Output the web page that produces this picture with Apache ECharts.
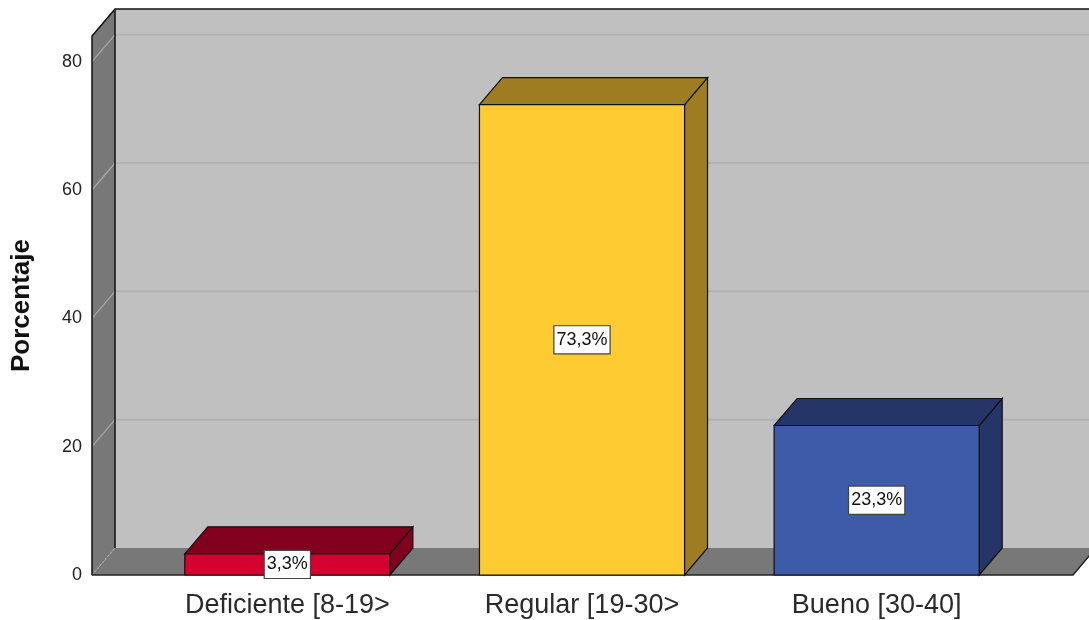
<!DOCTYPE html>
<html>
<head>
<meta charset="utf-8">
<script src="https://cdn.jsdelivr.net/npm/echarts@6/dist/echarts.min.js"></script>
<style>
html,body{margin:0;padding:0;background:#fff;}
#chart{width:1089px;height:620px;}
</style>
</head>
<body>
<div id="chart"></div>
<script>
// ---- data ----
const categories = ['Deficiente [8-19>', 'Regular [19-30>', 'Bueno [30-40]'];
const percentages = [3.3, 73.3, 23.3];
const yTicks = [0, 20, 40, 60, 80];
const yAxisName = 'Porcentaje';

// ---- styles ----
const frontColors = ['#d5002f', '#fecb33', '#3e5ba9'];
const shadeColors = ['#80001e', '#9d7c22', '#253567'];
const DX = 23, DY = -27;      // 3D depth offset
const WALL_EXT_L = 48, WALL_EXT_R = 49;
const BAR_FRAC = 0.696;

const chart = echarts.init(document.getElementById('chart'));

function fmt(v){ return v.toFixed(1).replace('.', ',') + '%'; }

function wallsRender(params, api){
  const cs = params.coordSys;
  const x0 = cs.x - WALL_EXT_L;
  const x1 = cs.x + cs.width + WALL_EXT_R;
  const yTop = cs.y;
  const yBase = api.coord([0, 0])[1];
  const children = [];
  // back wall
  children.push({type:'rect', shape:{x:x0+DX, y:yTop+DY, width:(x1-x0)+10, height:yBase-yTop},
    style:{fill:'#c0c0c0'}});
  // left wall
  children.push({type:'polygon', shape:{points:[[x0,yBase],[x0,yTop],[x0+DX,yTop+DY],[x0+DX,yBase+DY]]},
    style:{fill:'#787878'}});
  // floor
  children.push({type:'polygon', shape:{points:[[x0,yBase],[x1,yBase],[x1+DX,yBase+DY],[x0+DX,yBase+DY]]},
    style:{fill:'#787878'}});
  // gridlines
  yTicks.forEach(function(t){
    const y = api.coord([0, t])[1];
    children.push({type:'line', shape:{x1:x0, y1:y, x2:x0+DX, y2:y+DY},
      style:{stroke:'#a8a8a8', lineWidth:1.2, lineDash: t === 0 ? [2,2] : null}});
    if (t > 0) {
      children.push({type:'line', shape:{x1:x0+DX, y1:y+DY, x2:x1+DX+20, y2:y+DY},
        style:{stroke:'#b2b2b2', lineWidth:2}});
    }
  });
  // edges
  children.push({type:'polyline', shape:{points:[[x0,yBase],[x0,yTop],[x0+DX,yTop+DY],[x1+DX+20,yTop+DY]]},
    style:{stroke:'#111', lineWidth:1.5, fill:null}});
  children.push({type:'line', shape:{x1:x0+DX, y1:yTop+DY, x2:x0+DX, y2:yBase+DY},
    style:{stroke:'#111', lineWidth:1.5}});
  children.push({type:'polyline', shape:{points:[[x0,yBase],[x1,yBase],[x1+DX,yBase+DY]]},
    style:{stroke:'#222', lineWidth:1.5, fill:null}});
  return {type:'group', children:children};
}

function barRender(params, api){
  const idx = api.value(0);
  const val = api.value(1);
  const top = api.coord([idx, val]);
  const base = api.coord([idx, 0]);
  const w = api.size([1, 0])[0] * BAR_FRAC;
  const xl = top[0] - w/2, xr = top[0] + w/2;
  const yt = top[1], yb = base[1];
  const i = params.dataIndex;
  const edge = {stroke:'#111', lineWidth:1.2};
  return {type:'group', children:[
    {type:'polygon', shape:{points:[[xr,yb],[xr,yt],[xr+DX,yt+DY],[xr+DX,yb+DY]]},
      style:Object.assign({fill:shadeColors[i]}, edge)},
    {type:'polygon', shape:{points:[[xl,yt],[xr,yt],[xr+DX,yt+DY],[xl+DX,yt+DY]]},
      style:Object.assign({fill:shadeColors[i]}, edge)},
    {type:'rect', shape:{x:xl, y:yt, width:w, height:yb-yt},
      style:Object.assign({fill:frontColors[i]}, edge)},
    {type:'text', x:top[0], y:(yt+yb)/2, z2:10,
      style:{text:fmt(val), fill:'#111', font:'18px "Liberation Sans", Arial, sans-serif',
        align:'center', verticalAlign:'middle', backgroundColor:'#fff',
        borderColor:'#444', borderWidth:1.2, padding:[5,2,4,2]}}
  ]};
}

const option = {
  backgroundColor:'#ffffff',
  animation:false,
  grid:{left:140, right:65, top:36, bottom:45},
  xAxis:{
    type:'category', data:categories,
    axisLine:{show:false}, axisTick:{show:false},
    axisLabel:{fontSize:27, color:'#2a2a2a', margin:17, fontFamily:'"Liberation Sans", Arial, sans-serif'}
  },
  yAxis:{
    type:'value', min:0, max:84, interval:20, offset:WALL_EXT_L,
    axisLine:{show:false}, axisTick:{show:false}, splitLine:{show:false},
    axisLabel:{fontSize:18, color:'#222', margin:10, showMaxLabel:false,
      fontFamily:'"Liberation Sans", Arial, sans-serif',
      formatter:function(v){ return yTicks.indexOf(v) >= 0 ? String(v) : ''; }},
    name:yAxisName, nameLocation:'middle', nameGap:57,
    nameTextStyle:{fontSize:26, fontWeight:'bold', color:'#111', fontFamily:'"Liberation Sans", Arial, sans-serif'}
  },
  series:[
    {type:'custom', renderItem:wallsRender, data:[[0,0]], z:1, silent:true},
    {type:'custom', renderItem:barRender, z:5,
      data:percentages.map(function(v,i){ return [i, v]; })}
  ]
};
chart.setOption(option);
</script>
</body>
</html>
